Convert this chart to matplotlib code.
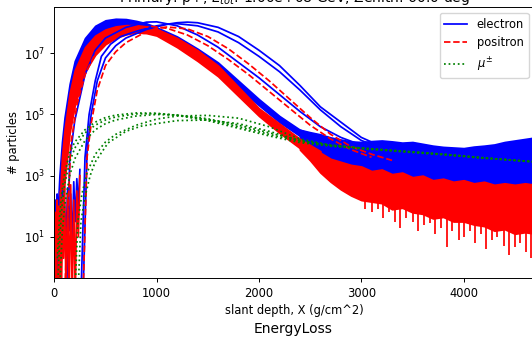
import numpy as np
import matplotlib
matplotlib.use('Agg')
import matplotlib.pyplot as plt

# all particle numbers below are log10(# particles)

# main shower bundles (envelopes of the many overlapping profiles)
x_main = [25, 50, 75, 100, 150, 200, 300, 400, 500, 600, 700, 800, 900,
          1000, 1200, 1400, 1600, 1800, 2000, 2200, 2400, 2600]
e_hi = [1.3, 3.0, 4.1, 4.9, 6.0, 6.75, 7.5, 7.9, 8.08, 8.13, 8.12, 8.06, 7.98,
        7.85, 7.55, 7.15, 6.7, 6.1, 5.5, 4.95, 4.5, 4.25]
e_lo = [-1, 1.0, 2.2, 3.3, 4.6, 5.4, 6.5, 7.05, 7.4, 7.6, 7.72, 7.75, 7.73,
        7.65, 7.3, 6.85, 6.35, 5.85, 5.3, 4.75, 4.3, 4.0]
p_hi = [-1, 2.0, 3.6, 4.5, 5.7, 6.45, 7.2, 7.58, 7.78, 7.88, 7.92, 7.92, 7.88,
        7.8, 7.5, 7.1, 6.6, 5.9, 5.2, 4.7, 4.2, 3.8]
p_lo = [-1, -1, 1.0, 2.8, 4.4, 5.3, 6.4, 6.95, 7.3, 7.5, 7.62, 7.68, 7.66,
        7.58, 7.2, 6.75, 6.25, 5.6, 4.95, 4.4, 3.9, 3.5]

# late starting showers (single profiles)
x_eA = [260, 300, 340, 400, 460, 550, 650, 800, 1000, 1200, 1300, 1400, 1600,
        1800, 2000, 2200, 2400, 2600, 2800, 3000, 3200]
e_A = [-1, 3.6, 5.0, 6.1, 6.9, 7.3, 7.55, 7.72, 7.9, 8.0, 8.02, 8.0, 7.85,
       7.55, 7.1, 6.6, 5.95, 5.25, 4.75, 4.25, 3.95]
x_eB = [280, 320, 360, 420, 500, 600, 700, 900, 1100, 1200, 1400, 1600, 1800,
        2000, 2200, 2400, 2600, 2800, 3000, 3200]
e_B = [-1, 3.8, 5.0, 6.1, 6.85, 7.25, 7.5, 7.78, 7.95, 7.97, 7.9, 7.7, 7.35,
       6.9, 6.4, 5.8, 5.15, 4.6, 4.15, 3.9]
x_eC = [120, 150, 200, 300, 400, 500, 700, 900, 1000, 1200, 1400, 1600, 1800,
        2000, 2200, 2400, 2600, 2800, 3000]
e_C = [-1, 3.5, 4.8, 6.3, 7.1, 7.5, 7.85, 8.02, 8.03, 7.9, 7.6, 7.2, 6.7,
       6.2, 5.65, 5.1, 4.6, 4.25, 4.0]
x_pA = [280, 320, 360, 420, 500, 600, 700, 850, 1000, 1100, 1300, 1500, 1700,
        1900, 2100, 2300, 2500, 2700, 2900, 3100, 3300]
p_A = [-1, 3.6, 4.7, 5.8, 6.6, 7.05, 7.35, 7.62, 7.82, 7.86, 7.8, 7.55, 7.15,
       6.65, 6.1, 5.5, 4.9, 4.35, 3.95, 3.7, 3.5]
x_pB = [100, 160, 220, 300, 400, 500, 600, 800, 950, 1100, 1300, 1500, 1700,
        1900, 2100, 2300, 2500, 2700, 2900, 3100]
p_B = [-1, 4.0, 5.3, 6.3, 7.0, 7.35, 7.6, 7.83, 7.88, 7.82, 7.6, 7.25, 6.8,
       6.3, 5.75, 5.2, 4.65, 4.2, 3.85, 3.6]

# noisy tails at large depth
x_tail = [2400, 2500, 2600, 2700, 2800, 2900, 3000, 3100, 3200, 3300, 3400, 3500,
          3600, 3700, 3800, 3900, 4000, 4100, 4200, 4300, 4400, 4500, 4600, 4700]
e_tail_hi = [4.5, 4.42, 4.35, 4.25, 4.18, 4.12, 4.1, 4.13, 4.15, 4.12, 4.08, 4.1,
             4.04, 3.98, 3.94, 3.92, 3.9, 3.95, 3.98, 4.02, 4.1, 4.15, 4.2, 4.25]
e_tail_lo = [4.1, 3.8, 3.5, 3.3, 3.1, 3.0, 2.95, 2.9, 2.95, 2.85, 2.8, 2.85,
             2.8, 2.75, 2.8, 2.7, 2.75, 2.7, 2.65, 2.7, 2.6, 2.65, 2.6, 2.6]
p_tail_hi = [4.15, 3.95, 3.75, 3.55, 3.45, 3.35, 3.3, 3.15, 3.2, 3.05, 3.1, 2.95,
             3.0, 2.85, 2.9, 2.8, 2.85, 2.75, 2.8, 2.7, 2.75, 2.7, 2.75, 2.7]
p_tail_lo = [3.85, 3.5, 3.1, 2.8, 2.55, 2.35, 2.2, 2.15, 2.1, 1.9, 1.95, 1.8,
             1.75, 1.6, 1.65, 1.5, 1.5, 1.4, 1.35, 1.2, 1.25, 1.1, 1.15, 1.1]
spike_x = [3040, 3100, 3160, 3210, 3270, 3330, 3380, 3440, 3500, 3550, 3610, 3670,
           3720, 3780, 3840, 3890, 3950, 4000, 4060, 4110, 4170, 4220, 4280, 4330,
           4390, 4440, 4500, 4550, 4610, 4660]
spike_lo = [1.9, 1.8, 1.9, 1.6, 1.8, 1.5, 1.3, 1.6, 1.5, 1.2, 1.4, 1.45,
            1.1, 1.3, 0.66, 1.2, 0.9, 1.0, 1.2, 0.8, 1.1, 0.6, 0.9, 1.0,
            0.7, 0.4, 0.66, 0.8, 0.5, 0.3]

# noise at the very start of the showers
x_start = [5, 12, 20, 28, 36, 44, 52, 60, 70, 80, 90, 100, 115, 130, 145, 160,
           175, 190, 205, 220, 235, 250]
e_start = [1.0, 2.2, 0.9, 2.4, 1.3, 2.0, 0.8, 2.3, 1.1, 2.5, 1.4, 2.1, 0.9, 2.6,
           1.2, 2.4, 0.7, 2.8, 1.5, 2.9, 2.0, 3.2]
p_start = [-1, 1.8, -1, 2.2, 0.5, 2.0, -1, 2.5, -1, 2.3, 0.3, 2.6, -1, 2.4,
           -1, 2.7, -1, 2.2, -1, 2.5, 1.0, 3.0]

# muons
x_mu = [30, 50, 75, 100, 150, 200, 300, 400, 500, 600, 800, 1000, 1200, 1500,
        1800, 2100, 2400, 2700, 3000, 3400, 3800, 4200, 4700]
mu_1 = [0.3, 1.6, 2.5, 3.05, 3.75, 4.1, 4.5, 4.75, 4.9, 4.98, 5.05, 5.04, 4.97,
        4.8, 4.55, 4.3, 4.08, 3.96, 3.88, 3.78, 3.68, 3.57, 3.45]
mu_2 = [-1, 0.8, 2.0, 2.7, 3.45, 3.9, 4.4, 4.65, 4.82, 4.92, 5.02, 5.03, 4.98,
        4.83, 4.6, 4.35, 4.12, 3.98, 3.9, 3.8, 3.7, 3.58, 3.45]
mu_3 = [-1, -1, 1.0, 2.0, 3.0, 3.55, 4.15, 4.5, 4.7, 4.82, 4.95, 5.0, 4.98,
        4.86, 4.65, 4.4, 4.15, 4.0, 3.9, 3.8, 3.7, 3.58, 3.45]
x_mu4 = [230, 260, 300, 350, 400, 525, 700, 850, 1035, 1200, 1500, 1800, 2100,
         2400, 2700, 3000, 3400, 3800, 4200, 4700]
mu_4 = [-1, 1.5, 2.3, 3.0, 3.45, 4.07, 4.45, 4.62, 4.72, 4.8, 4.82, 4.7, 4.45,
        4.15, 3.98, 3.9, 3.8, 3.7, 3.58, 3.45]
x_mu5 = [200, 230, 270, 320, 400, 500, 600, 800, 1000, 1200, 1500, 1800, 2100,
         2400, 2700, 3000]
mu_5 = [-1, 1.5, 2.4, 3.1, 3.7, 4.1, 4.35, 4.65, 4.85, 4.95, 4.97, 4.88, 4.6,
        4.2, 4.0, 3.9]

plt.rcParams['font.size'] = 8.3

fig = plt.figure(figsize=(5.32, 3.37), dpi=100)
ax = fig.add_axes([54.3 / 532, 59.0 / 337, 480.0 / 532, 270.7 / 337])
ax.set_yscale('log')

def p10(v):
    return 10.0 ** np.asarray(v)

lw = 1.25

# electrons
ax.fill_between(x_main, p10(e_lo), p10(e_hi), color='blue', lw=lw)
ax.fill_between(x_tail, p10(e_tail_lo), p10(e_tail_hi), color='blue', lw=lw)
ax.plot(x_start, p10(e_start), color='blue', lw=lw)
ax.plot(x_eA, p10(e_A), color='blue', lw=lw, label='electron')
ax.plot(x_eB, p10(e_B), color='blue', lw=lw)
ax.plot(x_eC, p10(e_C), color='blue', lw=lw)

# positrons
ax.fill_between(x_main, p10(p_lo), p10(p_hi), color='red', lw=lw)
ax.fill_between(x_tail, p10(p_tail_lo), p10(p_tail_hi), color='red', lw=lw)
ax.vlines(spike_x, p10(spike_lo), 10 ** 2.2, color='red', lw=lw)
ax.plot(x_start, p10(p_start), color='red', lw=lw)
ax.plot(x_pA, p10(p_A), color='red', ls='--', lw=lw, label='positron')
ax.plot(x_pB, p10(p_B), color='red', ls='--', lw=lw)

# muons
ax.plot(x_mu, p10(mu_1), color='green', ls=':', lw=lw, label=r'$\mu^{\pm}$')
ax.plot(x_mu, p10(mu_2), color='green', ls=':', lw=lw)
ax.plot(x_mu, p10(mu_3), color='green', ls=':', lw=lw)
ax.plot(x_mu4, p10(mu_4), color='green', ls=':', lw=lw)
ax.plot(x_mu5, p10(mu_5), color='green', ls=':', lw=lw)

ax.set_xlim(0, 4690)
ax.set_ylim(0.45, 3.2e8)
ax.set_yticks([1e1, 1e3, 1e5, 1e7])
ax.minorticks_off()
ax.tick_params(length=2.9, width=0.7)
for s in ax.spines.values():
    s.set_linewidth(0.7)
ax.set_xlabel('slant depth, X (g/cm^2)', labelpad=3)
ax.set_ylabel('# particles', labelpad=3)
ax.set_title(r'Primary: p+, $E_{tot}$: 1.00e+08 GeV, Zenith: 60.0 deg', fontsize=10, pad=3)
ax.legend(loc='upper right')
fig.text(293 / 532, 8 / 337, 'EnergyLoss', ha='center', va='center', fontsize=10)

fig.savefig('out.png', dpi=100)
